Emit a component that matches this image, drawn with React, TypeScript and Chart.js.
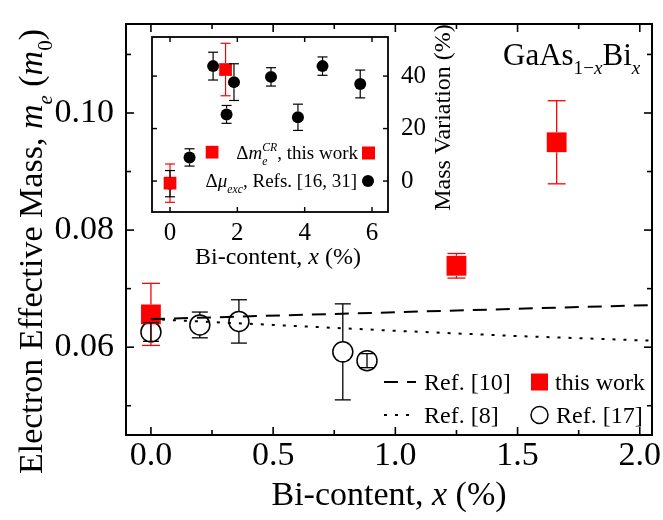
import React, { useEffect, useRef } from 'react';
import { Chart, registerables } from 'chart.js';

Chart.register(...registerables);

const FONT = '"Liberation Serif", "Times New Roman", serif';

// ---------- main chart data ----------
const thisWorkX = [0, 1.25, 1.66];
const thisWorkY = [0.0656, 0.0739, 0.095];
const thisWorkErr = [0.0053, 0.0021, 0.0071];

const ref17X = [0, 0.2, 0.36, 0.785, 0.884];
const ref17Y = [0.0626, 0.0638, 0.0644, 0.0592, 0.0577];
const ref17Err = [0.0016, 0.0022, 0.0037, 0.0082, 0.0012];

const ref10X = [0, 2.05];
const ref10Y = [0.0648, 0.0672];

const ref8X = [0, 0.5, 1.0, 1.5, 2.05];
const ref8Y = [0.0648, 0.0638, 0.0628, 0.0619, 0.0611];

const mainXTicks = [0, 0.5, 1.0, 1.5, 2.0];
const mainXMinor = [0.25, 0.75, 1.25, 1.75];
const mainYTicks = [0.06, 0.08, 0.1];
const mainYMinor = [0.05, 0.07, 0.09, 0.11];

// ---------- inset data ----------
const insetRedX = [0, 1.25, 1.65];
const insetRedY = [-0.8, 11.0, 42.5];
const insetRedErr = [7.3, 0, 10];

const insetBlackX = [0, 0.58, 1.28, 1.68, 1.9, 3.0, 3.8, 4.53, 5.65];
const insetBlackY = [-1, 9.0, 43.8, 25.4, 37.7, 39.7, 24.3, 43.8, 37];
const insetBlackErr = [5, 3.3, 5.3, 3.4, 7, 3.5, 5, 3.5, 5.3];

const insetXTicks = [0, 2, 4, 6];
const insetYTicks = [0, 20, 40];

type Run = { t: string; it?: boolean; sub?: boolean; sup?: boolean; stack?: boolean };

function runFont(r: Run, size: number) {
  const s = r.sub || r.sup ? size * 0.62 : size;
  return `${r.it ? 'italic ' : ''}${s}px ${FONT}`;
}

function drawRich(
  ctx: CanvasRenderingContext2D,
  runs: Run[],
  x: number,
  y: number,
  size: number,
  align: 'left' | 'center' | 'right' = 'left',
  angle = 0
) {
  const items: { r: Run; start: number; dy: number }[] = [];
  let cur = 0;
  let lastStart = 0;
  let lastEnd = 0;
  for (const r of runs) {
    ctx.font = runFont(r, size);
    const w = ctx.measureText(r.t).width;
    const start = r.stack ? lastStart : cur;
    const dy = r.sub ? size * 0.3 : r.sup ? -size * 0.4 : 0;
    items.push({ r, start, dy });
    const end = start + w;
    if (r.stack) {
      lastEnd = Math.max(lastEnd, end);
      cur = lastEnd;
    } else {
      lastStart = start;
      lastEnd = end;
      cur = end;
    }
  }
  const off = align === 'center' ? -cur / 2 : align === 'right' ? -cur : 0;
  ctx.save();
  ctx.translate(x, y);
  ctx.rotate(angle);
  ctx.textAlign = 'left';
  ctx.textBaseline = 'alphabetic';
  ctx.fillStyle = '#000';
  for (const it of items) {
    ctx.font = runFont(it.r, size);
    ctx.fillText(it.r.t, off + it.start, it.dy);
  }
  ctx.restore();
}

function line(ctx: CanvasRenderingContext2D, x1: number, y1: number, x2: number, y2: number) {
  ctx.beginPath();
  ctx.moveTo(x1, y1);
  ctx.lineTo(x2, y2);
  ctx.stroke();
}

const errorBarPlugin = {
  id: 'errbars',
  afterDatasetsDraw(chart: any) {
    const ctx = chart.ctx as CanvasRenderingContext2D;
    const xs = chart.scales.x;
    const ys = chart.scales.y;
    ctx.save();
    chart.data.datasets.forEach((ds: any) => {
      if (!ds.errors) return;
      ctx.strokeStyle = ds.errColor;
      ctx.lineWidth = ds.errWidth;
      ds.data.forEach((p: any, j: number) => {
        const e = ds.errors[j];
        if (!e) return;
        const px = xs.getPixelForValue(p.x);
        const py = ys.getPixelForValue(p.y);
        const top = ys.getPixelForValue(p.y + e);
        const bot = ys.getPixelForValue(p.y - e);
        const gap = ds.errGap;
        if (py - top > gap) {
          line(ctx, px, top, px, py - gap);
          line(ctx, px, py + gap, px, bot);
        } else {
          line(ctx, px, top, px, bot);
        }
        line(ctx, px - ds.capW, top, px + ds.capW, top);
        line(ctx, px - ds.capW, bot, px + ds.capW, bot);
      });
    });
    ctx.restore();
  },
};

function drawFrameTicks(
  chart: any,
  xMajor: number[],
  xMinor: number[],
  yMajor: number[],
  yMinor: number[],
  majLen: number,
  minLen: number,
  lw: number
) {
  const ctx = chart.ctx as CanvasRenderingContext2D;
  const { left, right, top, bottom } = chart.chartArea;
  const xs = chart.scales.x;
  const ys = chart.scales.y;
  ctx.save();
  ctx.strokeStyle = '#000';
  ctx.lineWidth = lw;
  ctx.setLineDash([]);
  ctx.strokeRect(left, top, right - left, bottom - top);
  ctx.lineWidth = lw * 0.8;
  const xt = (vals: number[], len: number) =>
    vals.forEach((v) => {
      const px = xs.getPixelForValue(v);
      line(ctx, px, bottom, px, bottom - len);
      line(ctx, px, top, px, top + len);
    });
  const yt = (vals: number[], len: number) =>
    vals.forEach((v) => {
      const py = ys.getPixelForValue(v);
      line(ctx, left, py, left + len, py);
      line(ctx, right, py, right - len, py);
    });
  xt(xMajor, majLen);
  xt(xMinor, minLen);
  yt(yMajor, majLen);
  yt(yMinor, minLen);
  ctx.restore();
}

const mainDecor = {
  id: 'mainDecor',
  afterDraw(chart: any) {
    const ctx = chart.ctx as CanvasRenderingContext2D;
    const { left, right, top, bottom } = chart.chartArea;
    drawFrameTicks(chart, mainXTicks, mainXMinor, mainYTicks, mainYMinor, 8, 5, 2);

    // axis titles
    drawRich(ctx, [{ t: 'Bi-content, ' }, { t: 'x', it: true }, { t: ' (%)' }], (left + right) / 2, 505, 34, 'center');
    drawRich(
      ctx,
      [
        { t: 'Electron Effective Mass, ' },
        { t: 'm', it: true },
        { t: 'e', it: true, sub: true },
        { t: ' (' },
        { t: 'm', it: true },
        { t: '0', sub: true },
        { t: ')' },
      ],
      42,
      (top + bottom) / 2 + 22,
      34,
      'center',
      -Math.PI / 2
    );

    // material label
    drawRich(
      ctx,
      [
        { t: 'GaAs' },
        { t: '1\u2212', sub: true },
        { t: 'x', it: true, sub: true },
        { t: 'Bi' },
        { t: 'x', it: true, sub: true },
      ],
      right - 149,
      65,
      31,
      'left'
    );

    // legend
    const lx = right - 268;
    const r1 = 382;
    const r2 = 415;
    ctx.save();
    ctx.strokeStyle = '#000';
    ctx.lineWidth = 2;
    ctx.setLineDash([14, 9]);
    line(ctx, lx, r1, lx + 32, r1);
    ctx.setLineDash([3, 8]);
    line(ctx, lx, r2, lx + 32, r2);
    ctx.setLineDash([]);
    ctx.fillStyle = '#ff0000';
    ctx.fillRect(lx + 147, r1 - 8.5, 17, 17);
    ctx.fillStyle = '#fff';
    ctx.lineWidth = 1.5;
    ctx.beginPath();
    ctx.arc(lx + 155.5, r2, 8.5, 0, Math.PI * 2);
    ctx.fill();
    ctx.stroke();
    ctx.restore();
    drawRich(ctx, [{ t: 'Ref. [10]' }], lx + 40, r1 + 8, 24);
    drawRich(ctx, [{ t: 'Ref. [8]' }], lx + 40, r2 + 8, 24);
    drawRich(ctx, [{ t: 'this work' }], lx + 171, r1 + 8, 24);
    drawRich(ctx, [{ t: 'Ref. [17]' }], lx + 172, r2 + 8, 24);
  },
};

// inset canvas placement (page pixels)
const INSET_LEFT = 140;
const INSET_TOP = 14;
const OY = 28 - INSET_TOP;

const insetDecor = {
  id: 'insetDecor',
  beforeDraw(chart: any) {
    const ctx = chart.ctx as CanvasRenderingContext2D;
    const { left, right, top, bottom } = chart.chartArea;
    ctx.save();
    ctx.fillStyle = '#fff';
    ctx.fillRect(left, top, right - left, bottom - top);
    ctx.restore();
  },
  afterDraw(chart: any) {
    const ctx = chart.ctx as CanvasRenderingContext2D;
    const { left, right, top, bottom } = chart.chartArea;
    drawFrameTicks(chart, insetXTicks, [], insetYTicks, [], 5, 3, 1.8);
    drawRich(ctx, [{ t: 'Bi-content, ' }, { t: 'x', it: true }, { t: ' (%)' }], (left + right) / 2 + 8, 236 + OY, 24, 'center');
    drawRich(ctx, [{ t: 'Mass Variation (%)' }], 310, (top + bottom) / 2 - 7, 24, 'center', -Math.PI / 2);

    // inset legend
    drawRich(
      ctx,
      [
        { t: '\u0394' },
        { t: 'm', it: true },
        { t: 'e', it: true, sub: true },
        { t: 'CR', it: true, sup: true, stack: true },
        { t: ', this work' },
      ],
      right - 30,
      131 + OY,
      19,
      'right'
    );
    drawRich(
      ctx,
      [{ t: '\u0394' }, { t: '\u03bc', it: true }, { t: 'exc', it: true, sub: true }, { t: ', Refs. [16, 31]' }],
      right - 31,
      159 + OY,
      19,
      'right'
    );
    ctx.save();
    ctx.fillStyle = '#ff0000';
    ctx.fillRect(right - 26, 125 + OY - 6.5, 13, 13);
    ctx.fillStyle = '#000';
    ctx.beginPath();
    ctx.arc(right - 20, 153 + OY, 6, 0, Math.PI * 2);
    ctx.fill();
    ctx.restore();
  },
};

const pts = (xs: number[], ys: number[]) => xs.map((x, i) => ({ x, y: ys[i] }));

const zeroPad = (s: any) => {
  s.paddingTop = 0;
  s.paddingBottom = 0;
  s.paddingLeft = 0;
  s.paddingRight = 0;
};

export default function App() {
  const mainRef = useRef<HTMLCanvasElement>(null);
  const insetRef = useRef<HTMLCanvasElement>(null);

  useEffect(() => {
    const tickFont = { family: FONT, size: 34 };
    const main = new Chart(mainRef.current as HTMLCanvasElement, {
      type: 'scatter',
      data: {
        datasets: [
          {
            type: 'line',
            label: 'Ref. [10]',
            data: pts(ref10X, ref10Y),
            borderColor: '#000',
            borderWidth: 2,
            borderDash: [14, 9],
            pointRadius: 0,
            fill: false,
            order: 0,
          } as any,
          {
            type: 'line',
            label: 'Ref. [8]',
            data: pts(ref8X, ref8Y),
            borderColor: '#000',
            borderWidth: 2,
            borderDash: [3, 8],
            pointRadius: 0,
            fill: false,
            order: 1,
          } as any,
          {
            label: 'this work',
            data: pts(thisWorkX, thisWorkY),
            pointStyle: 'rect',
            pointRadius: 14,
            backgroundColor: '#ff0000',
            borderColor: '#ff0000',
            borderWidth: 0,
            order: 2,
            errors: thisWorkErr,
            errColor: '#ff0000',
            errWidth: 1.3,
            errGap: 10,
            capW: 9,
          } as any,
          {
            label: 'Ref. [17]',
            data: pts(ref17X, ref17Y),
            pointStyle: 'circle',
            pointRadius: 10,
            backgroundColor: '#fff',
            borderColor: '#000',
            borderWidth: 1.5,
            order: 3,
            errors: ref17Err,
            errColor: '#000',
            errWidth: 1.3,
            errGap: 10,
            capW: 8,
          } as any,
        ],
      },
      options: {
        responsive: false,
        animation: false,
        devicePixelRatio: 1,
        layout: { autoPadding: false, padding: { top: 24, right: 11, left: 0, bottom: 0 } },
        plugins: { legend: { display: false }, tooltip: { enabled: false } },
        scales: {
          x: {
            type: 'linear',
            min: -0.102,
            max: 2.05,
            grid: { display: false },
            border: { display: false },
            ticks: {
              font: tickFont,
              color: '#000',
              padding: -7,
              maxRotation: 0,
              callback: (v: any) => Number(v).toFixed(1),
            },
            afterBuildTicks: (s: any) => {
              s.ticks = mainXTicks.map((v) => ({ value: v }));
            },
            afterFit: (s: any) => {
              s.height = 85;
              zeroPad(s);
            },
          },
          y: {
            type: 'linear',
            min: 0.045,
            max: 0.1152,
            grid: { display: false },
            border: { display: false },
            ticks: {
              font: tickFont,
              color: '#000',
              padding: 4,
              callback: (v: any) => Number(v).toFixed(2),
            },
            afterBuildTicks: (s: any) => {
              s.ticks = mainYTicks.map((v) => ({ value: v }));
            },
            afterFit: (s: any) => {
              s.width = 126;
              zeroPad(s);
            },
          },
        },
      },
      plugins: [errorBarPlugin, mainDecor],
    } as any);

    const insetFont = { family: FONT, size: 25 };
    const inset = new Chart(insetRef.current as HTMLCanvasElement, {
      type: 'scatter',
      data: {
        datasets: [
          {
            label: 'dm',
            data: pts(insetRedX, insetRedY),
            pointStyle: 'rect',
            pointRadius: 9,
            backgroundColor: '#ff0000',
            borderColor: '#ff0000',
            borderWidth: 0,
            order: 0,
            errors: insetRedErr,
            errColor: '#ff0000',
            errWidth: 1.2,
            errGap: 6.4,
            capW: 5,
          } as any,
          {
            label: 'dmu',
            data: pts(insetBlackX, insetBlackY),
            pointStyle: 'circle',
            pointRadius: 6,
            backgroundColor: '#000',
            borderColor: '#000',
            borderWidth: 0,
            order: 1,
            errors: insetBlackErr,
            errColor: '#000',
            errWidth: 1.2,
            errGap: 6,
            capW: 5,
          } as any,
        ],
      },
      options: {
        responsive: false,
        animation: false,
        devicePixelRatio: 1,
        layout: { autoPadding: false, padding: { top: 9 + OY, left: 12, right: 0, bottom: 0 } },
        plugins: { legend: { display: false }, tooltip: { enabled: false } },
        scales: {
          x: {
            type: 'linear',
            min: -0.535,
            max: 6.475,
            grid: { display: false },
            border: { display: false },
            ticks: { font: insetFont, color: '#000', padding: -2, maxRotation: 0 },
            afterBuildTicks: (s: any) => {
              s.ticks = insetXTicks.map((v) => ({ value: v }));
            },
            afterFit: (s: any) => {
              s.height = 61;
              zeroPad(s);
            },
          },
          y: {
            type: 'linear',
            position: 'right',
            min: -11.8,
            max: 54.9,
            grid: { display: false },
            border: { display: false },
            ticks: { font: insetFont, color: '#000', padding: 5 },
            afterBuildTicks: (s: any) => {
              s.ticks = insetYTicks.map((v) => ({ value: v }));
            },
            afterFit: (s: any) => {
              s.width = 72;
              zeroPad(s);
            },
          },
        },
      },
      plugins: [errorBarPlugin, insetDecor],
    } as any);

    return () => {
      main.destroy();
      inset.destroy();
    };
  }, []);

  return (
    <div style={{ position: 'absolute', left: 0, top: 0, width: 663, height: 520, background: '#fff' }}>
      <canvas ref={mainRef} width={663} height={520} style={{ position: 'absolute', left: 0, top: 0 }} />
      <canvas
        ref={insetRef}
        width={320}
        height={245 + OY}
        style={{ position: 'absolute', left: INSET_LEFT, top: INSET_TOP }}
      />
    </div>
  );
}
